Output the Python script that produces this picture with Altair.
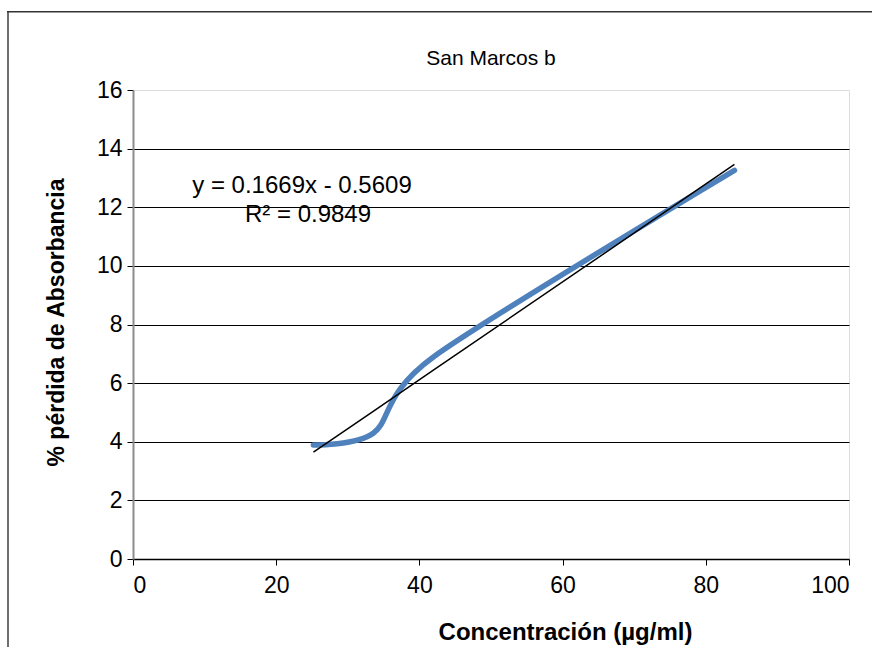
import altair as alt
import pandas as pd

# data
conc = [25.2, 33.6, 42.0, 84.0]
loss = [3.89, 4.30, 6.90, 13.26]
slope = 0.1669
intercept = -0.5609
title_text = ["San Marcos b"]
eq_text = ["y = 0.1669x - 0.5609", "R² = 0.9849"]
y_ticks = [0, 2, 4, 6, 8, 10, 12, 14, 16]
x_ticks = [0, 20, 40, 60, 80, 100]

df = pd.DataFrame({"x": conc, "y": loss})

FONT = "Liberation Sans"

x_scale = alt.Scale(domain=[0, 100], nice=False, zero=True)
y_scale = alt.Scale(domain=[0, 16], nice=False, zero=True)

x_enc = alt.X(
    "x:Q",
    scale=x_scale,
    axis=alt.Axis(
        values=x_ticks,
        title="Concentración (µg/ml)",
        grid=False,
        domainColor="black",
        domainWidth=1.5,
        tickColor="black",
        tickSize=6,
        tickWidth=1,
        labelFont=FONT,
        labelFontSize=23,
        labelColor="black",
        labelPadding=9,
        titleFont=FONT,
        titleFontSize=24,
        titleFontWeight="bold",
        titleColor="black",
        titleX=432,
        titleY=80,
        titleAlign="center",
        titleBaseline="alphabetic",
    ),
)

y_enc = alt.Y(
    "y:Q",
    scale=y_scale,
    axis=alt.Axis(
        values=y_ticks,
        title="% pérdida de Absorbancia",
        grid=True,
        gridColor={"condition": {"test": "datum.value === 16 || datum.value === 0", "value": "transparent"}, "value": "black"},
        gridWidth=1,
        domainColor="#8c8c8c",
        domainWidth=2,
        tickColor="black",
        tickSize=6,
        tickWidth=1,
        labelFont=FONT,
        labelFontSize=23,
        labelColor="black",
        labelPadding=5,
        titleFont=FONT,
        titleFontSize=23,
        titleFontWeight="bold",
        titleColor="black",
        titleX=-77,
        titleY=232,
        titleAngle=270,
        titleAlign="center",
        titleBaseline="middle",
    ),
)

base = alt.Chart(df)

one = base.transform_filter("datum.x === 84")
frame_left = one.mark_rect(fill="#6e6e6e", stroke=None).encode(
    x=alt.value(-126), x2=alt.value(-124), y=alt.value(-78), y2=alt.value(560)
)
frame_top = one.mark_rect(fill="#333333", stroke=None).encode(
    x=alt.value(-126), x2=alt.value(745), y=alt.value(-79), y2=alt.value(-77.5)
)

curve = base.mark_line(
    interpolate="cardinal", tension=0.15, color="#4F81BD", strokeWidth=5.5,
    strokeCap="round", strokeJoin="round"
).encode(x=x_enc, y=y_enc)

trend = base.transform_calculate(
    yt=f"{slope} * datum.x + ({intercept})"
).mark_line(color="black", strokeWidth=1.5).encode(
    x=alt.X("x:Q", scale=x_scale),
    y=alt.Y("yt:Q", scale=y_scale),
)

title_df = pd.DataFrame({"t": title_text})
title = alt.Chart(title_df).mark_text(
    font=FONT, fontSize=21, color="black", align="center", baseline="alphabetic"
).encode(text="t:N", x=alt.value(358), y=alt.value(-25))

eq_df = pd.DataFrame({"t": eq_text, "k": [0, 1]})
eq1 = alt.Chart(eq_df).transform_filter("datum.k === 0").mark_text(
    font=FONT, fontSize=24, color="black", align="center", baseline="alphabetic"
).encode(text="t:N", x=alt.value(169), y=alt.value(103))
eq2 = alt.Chart(eq_df).transform_filter("datum.k === 1").mark_text(
    font=FONT, fontSize=24, color="black", align="center", baseline="alphabetic"
).encode(text="t:N", x=alt.value(175), y=alt.value(132))

chart = alt.layer(frame_left, frame_top, curve, trend, title, eq1, eq2).properties(
    width=716,
    height=469,
    autosize=alt.AutoSizeParams(type="none"),
    padding={"left": 133, "top": 90, "right": 23, "bottom": 88},
).configure_view(
    stroke="#8c8c8c", strokeWidth=2
).configure(background="white")

chart.save("out.html", embed_options={"renderer": "svg", "actions": False})
